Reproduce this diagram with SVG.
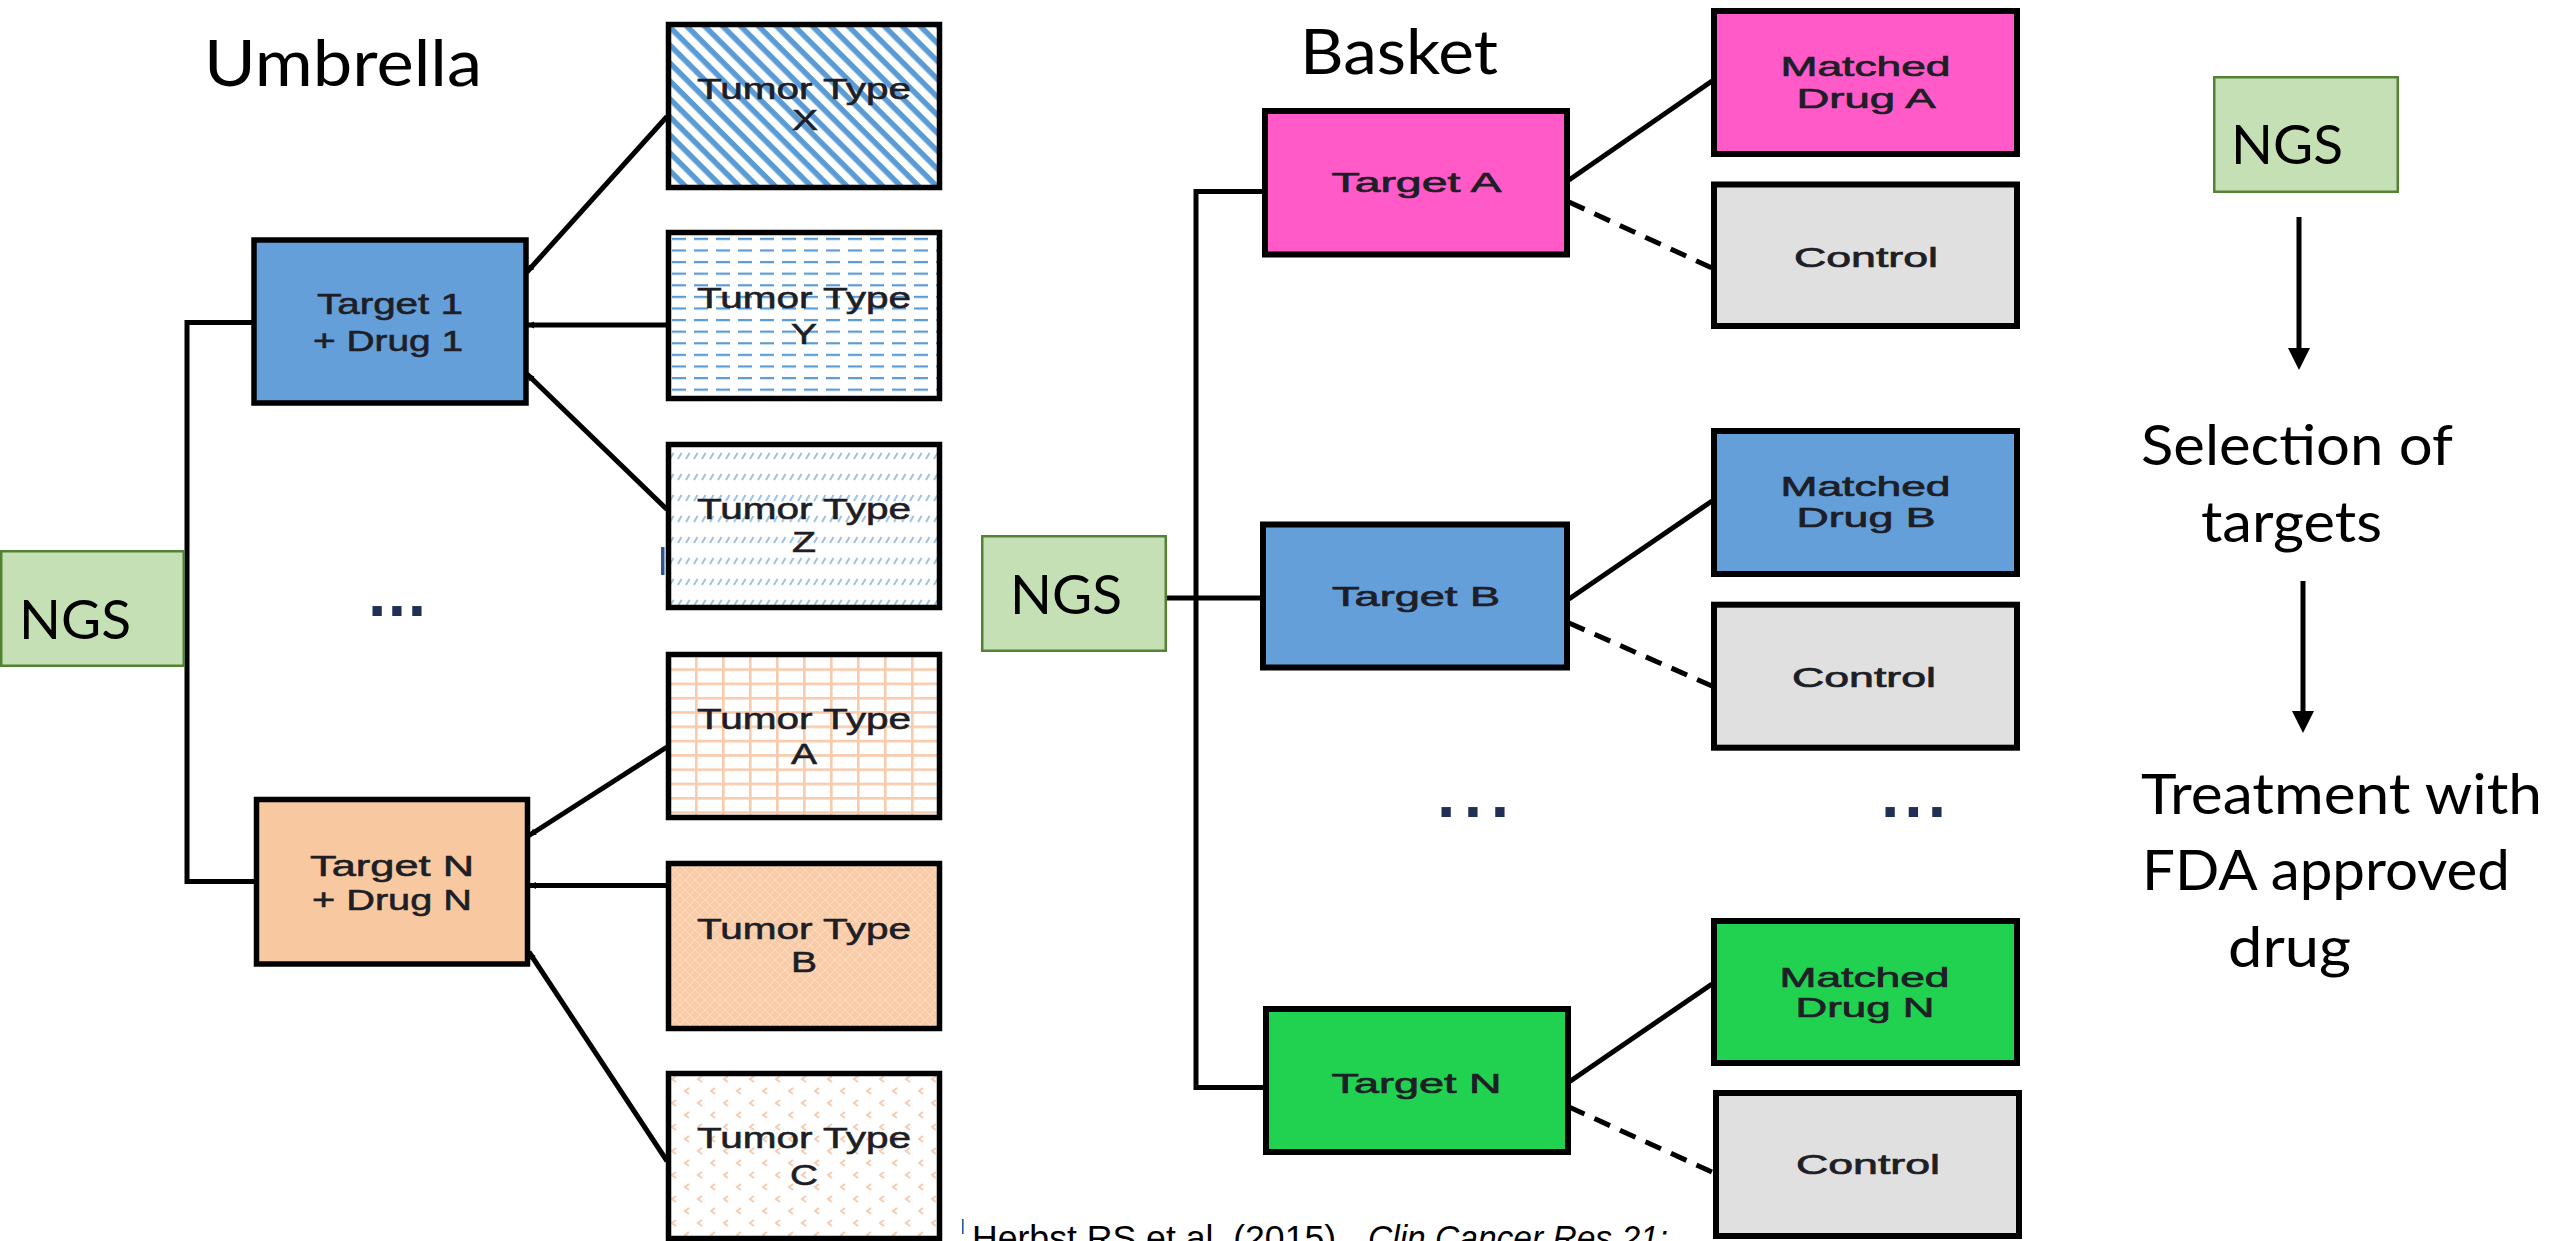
<svg xmlns="http://www.w3.org/2000/svg" width="2552" height="1241" viewBox="0 0 2552 1241">
<style>
.big{font-family:Lato,"Open Sans","Liberation Sans",sans-serif;fill:#000}
.lbl{font-family:"Liberation Sans",Arial,sans-serif;font-size:30px;fill:#1e1e26;stroke:#1e1e26;stroke-width:0.6;text-anchor:middle}
.blbl{font-family:"Liberation Sans",Arial,sans-serif;font-size:28px;fill:#1e1e26;stroke:#1e1e26;stroke-width:0.7;text-anchor:middle}
.box{stroke:#000;stroke-width:5.5}
.bbox{stroke:#000;stroke-width:6}
.ngs{fill:#C5E0B4;stroke:#548235;stroke-width:2.5}
.con{fill:none;stroke:#000;stroke-width:5}
.dash{fill:none;stroke:#000;stroke-width:5;stroke-dasharray:17 11}
.dots{font-family:"Liberation Sans",Arial,sans-serif;font-size:66px;font-weight:bold;fill:#1F2F55}
</style>
<defs>
<pattern id="pX" patternUnits="userSpaceOnUse" width="12.7" height="12.7" patternTransform="rotate(45)">
<rect width="12.7" height="12.7" fill="#fff"/>
<rect width="12.7" height="5.5" fill="#5B9BD5"/>
</pattern>
<pattern id="pY" patternUnits="userSpaceOnUse" x="670" y="233" width="22" height="11.6">
<rect width="22" height="11.6" fill="#fff"/>
<rect x="2" y="4.8" width="14" height="2.2" fill="#5B9BD5"/>
</pattern>
<pattern id="pZ" patternUnits="userSpaceOnUse" x="668" y="446" width="8" height="21">
<rect width="8" height="21" fill="#fff"/>
<path d="M2,13 L5.5,7" stroke="#9DC3E6" stroke-width="2"/>
</pattern>
<pattern id="pA" patternUnits="userSpaceOnUse" x="668" y="654" width="27" height="14.3">
<rect width="27" height="14.3" fill="#fff"/>
<path d="M0,1.3 H27 M1.3,0 V14.3" stroke="#F8CBAD" stroke-width="2.6"/>
</pattern>
<pattern id="pB" patternUnits="userSpaceOnUse" width="10" height="10">
<rect width="10" height="10" fill="#F9CBA6"/>
<path d="M0,5 L5,0 L10,5 L5,10 Z" fill="none" stroke="#fff" stroke-opacity="0.35" stroke-width="1"/>
</pattern>
<pattern id="pC" patternUnits="userSpaceOnUse" x="668" y="1073" width="26" height="24">
<rect width="26" height="24" fill="#fff"/>
<path d="M8,3 L4,6 L8,9 M21,15 L17,18 L21,21" stroke="#F8CBAD" stroke-width="2" fill="none"/>
</pattern>
<marker id="tick" markerUnits="userSpaceOnUse" markerWidth="10" markerHeight="10" viewBox="0 -5 10 10" refX="0" refY="0" orient="auto">
<path d="M7,-3.5 L0,0 L7,3.5 Z" fill="#000"/>
</marker>
<marker id="arrow" markerUnits="userSpaceOnUse" markerWidth="22" markerHeight="22" viewBox="0 0 22 22" refX="4" refY="11" orient="auto">
<path d="M0,0 L22,11 L0,22 Z" fill="#000"/>
</marker>
</defs>
<rect width="2552" height="1241" fill="#fff"/>

<g id="connectors">
<path class="con" d="M254,322.5 H187 V881.5 H257"/>
<line class="con" x1="527" y1="272" x2="667" y2="116.5" marker-start="url(#tick)"/>
<line class="con" x1="527" y1="325" x2="667" y2="325" marker-start="url(#tick)"/>
<line class="con" x1="527" y1="374" x2="667" y2="509.5" marker-start="url(#tick)"/>
<line class="con" x1="529" y1="835.5" x2="667" y2="747" marker-start="url(#tick)"/>
<line class="con" x1="529" y1="885.5" x2="667" y2="885.5" marker-start="url(#tick)"/>
<line class="con" x1="529" y1="952" x2="667" y2="1161" marker-start="url(#tick)"/>
<path class="con" d="M1264,191.5 H1196 V1087.5 H1265"/>
<line class="con" x1="1167" y1="598" x2="1262" y2="598"/>
<line class="con" x1="1569" y1="180" x2="1712" y2="81"/>
<line class="dash" x1="1569" y1="202" x2="1712" y2="268"/>
<line class="con" x1="1569" y1="599" x2="1712" y2="501"/>
<line class="dash" x1="1569" y1="623" x2="1712" y2="686"/>
<line class="con" x1="1569" y1="1082" x2="1712" y2="984"/>
<line class="dash" x1="1569" y1="1107" x2="1712" y2="1172"/>
<line class="con" x1="2299" y1="217" x2="2299" y2="352" stroke-width="5.5" marker-end="url(#arrow)"/>
<line class="con" x1="2303" y1="581" x2="2303" y2="715" stroke-width="5.5" marker-end="url(#arrow)"/>
</g>

<text class="big" x="204" y="85.6" font-size="63" textLength="278" lengthAdjust="spacingAndGlyphs">Umbrella</text>
<text class="big" x="1300" y="74.3" font-size="61" textLength="198" lengthAdjust="spacingAndGlyphs">Basket</text>

<g id="ngs-left"><rect class="ngs" x="1.25" y="551.25" width="182.5" height="114.5"/>
<text class="big" x="19" y="638.6" font-size="54" textLength="112" lengthAdjust="spacingAndGlyphs">NGS</text></g>

<g id="target1"><rect class="box" x="254" y="240" width="272" height="163" fill="#649FDA"/>
<text class="lbl" x="390" y="314" textLength="146" lengthAdjust="spacingAndGlyphs">Target 1</text>
<text class="lbl" x="388" y="351" textLength="150" lengthAdjust="spacingAndGlyphs">+ Drug 1</text></g>

<g id="targetN-umb"><rect class="box" x="256.5" y="799.5" width="271" height="164.5" fill="#F8C9A0"/>
<text class="lbl" x="392" y="876" textLength="164" lengthAdjust="spacingAndGlyphs">Target  N</text>
<text class="lbl" x="392" y="910" textLength="160" lengthAdjust="spacingAndGlyphs">+ Drug N</text></g>

<g id="tumorX"><rect class="box" x="668.5" y="24.5" width="271" height="163" fill="url(#pX)"/>
<text class="lbl" x="804" y="99" textLength="214" lengthAdjust="spacingAndGlyphs">Tumor Type</text>
<text class="lbl" x="805" y="130" textLength="26" lengthAdjust="spacingAndGlyphs">X</text></g>

<g id="tumorY"><rect class="box" x="668.5" y="232.5" width="271" height="166" fill="url(#pY)"/>
<text class="lbl" x="804" y="308" textLength="214" lengthAdjust="spacingAndGlyphs">Tumor Type</text>
<text class="lbl" x="804" y="344" textLength="26" lengthAdjust="spacingAndGlyphs">Y</text></g>

<g id="tumorZ"><rect class="box" x="668.5" y="444.5" width="271" height="163" fill="url(#pZ)"/>
<text class="lbl" x="804" y="519" textLength="214" lengthAdjust="spacingAndGlyphs">Tumor Type</text>
<text class="lbl" x="804" y="552" textLength="24" lengthAdjust="spacingAndGlyphs">Z</text></g>
<rect x="661" y="547" width="3.5" height="28" fill="#2F5597"/>

<g id="tumorA"><rect class="box" x="668.5" y="654.5" width="271" height="163" fill="url(#pA)"/>
<text class="lbl" x="804" y="729" textLength="214" lengthAdjust="spacingAndGlyphs">Tumor Type</text>
<text class="lbl" x="804" y="764" textLength="26" lengthAdjust="spacingAndGlyphs">A</text></g>

<g id="tumorB"><rect class="box" x="668.5" y="863.5" width="271" height="165" fill="url(#pB)"/>
<text class="lbl" x="804" y="939" textLength="214" lengthAdjust="spacingAndGlyphs">Tumor Type</text>
<text class="lbl" x="804" y="972" textLength="26" lengthAdjust="spacingAndGlyphs">B</text></g>

<g id="tumorC"><rect class="box" x="668.5" y="1073.5" width="271" height="165" fill="url(#pC)"/>
<text class="lbl" x="804" y="1148" textLength="214" lengthAdjust="spacingAndGlyphs">Tumor Type</text>
<text class="lbl" x="804" y="1185" textLength="28" lengthAdjust="spacingAndGlyphs">C</text></g>

<text class="dots" x="368" y="616" textLength="58" lengthAdjust="spacing">...</text>

<g id="ngs-mid"><rect class="ngs" x="982.25" y="536.25" width="183.5" height="114.5"/>
<text class="big" x="1010" y="614.2" font-size="54" textLength="112" lengthAdjust="spacingAndGlyphs">NGS</text></g>

<g id="targetA"><rect class="bbox" x="1265" y="111" width="302" height="143.5" fill="#FF5AC8"/>
<text class="blbl" x="1416.5" y="192.4" textLength="170" lengthAdjust="spacingAndGlyphs">Target A</text></g>
<g id="targetB"><rect class="bbox" x="1263" y="524.5" width="304" height="143" fill="#649FDA"/>
<text class="blbl" x="1416" y="605.5" textLength="168" lengthAdjust="spacingAndGlyphs">Target B</text></g>
<g id="targetN"><rect class="bbox" x="1266" y="1009" width="302" height="143" fill="#20D24F"/>
<text class="blbl" x="1416.5" y="1093" textLength="170" lengthAdjust="spacingAndGlyphs">Target N</text></g>

<g id="matchedA"><rect class="bbox" x="1714" y="11" width="303" height="143" fill="#FF5AC8"/>
<text class="blbl" x="1865.5" y="76" textLength="170" lengthAdjust="spacingAndGlyphs">Matched</text>
<text class="blbl" x="1866" y="108.4" textLength="139" lengthAdjust="spacingAndGlyphs">Drug A</text></g>
<g id="controlA"><rect class="bbox" x="1714" y="184.5" width="303" height="141.5" fill="#E0E0E0"/>
<text class="blbl" x="1866" y="266.7" textLength="144" lengthAdjust="spacingAndGlyphs">Control</text></g>
<g id="matchedB"><rect class="bbox" x="1714" y="431" width="303" height="143" fill="#649FDA"/>
<text class="blbl" x="1865.5" y="496" textLength="170" lengthAdjust="spacingAndGlyphs">Matched</text>
<text class="blbl" x="1866" y="527" textLength="139" lengthAdjust="spacingAndGlyphs">Drug B</text></g>
<g id="controlB"><rect class="bbox" x="1714" y="604.7" width="303" height="143" fill="#E0E0E0"/>
<text class="blbl" x="1864" y="686.8" textLength="144" lengthAdjust="spacingAndGlyphs">Control</text></g>
<g id="matchedN"><rect class="bbox" x="1714" y="921" width="303" height="142" fill="#20D24F"/>
<text class="blbl" x="1864.5" y="987" textLength="170" lengthAdjust="spacingAndGlyphs">Matched</text>
<text class="blbl" x="1865" y="1017" textLength="139" lengthAdjust="spacingAndGlyphs">Drug N</text></g>
<g id="controlN"><rect class="bbox" x="1716" y="1093" width="303" height="143" fill="#E0E0E0"/>
<text class="blbl" x="1868" y="1174" textLength="144" lengthAdjust="spacingAndGlyphs">Control</text></g>

<text class="dots" x="1437" y="817" textLength="72" lengthAdjust="spacing">...</text>
<text class="dots" x="1881" y="817" textLength="65" lengthAdjust="spacing">...</text>

<g id="ngs-right"><rect class="ngs" x="2214.25" y="77.25" width="183.5" height="114.5"/>
<text class="big" x="2231" y="164.3" font-size="54" textLength="112" lengthAdjust="spacingAndGlyphs">NGS</text></g>
<g id="selection">
<text class="big" x="2141" y="465" font-size="56" textLength="312" lengthAdjust="spacingAndGlyphs">Selection of</text>
<text class="big" x="2201" y="542" font-size="56" textLength="181" lengthAdjust="spacingAndGlyphs">targets</text></g>
<g id="treatment">
<text class="big" x="2141" y="814" font-size="56" textLength="401" lengthAdjust="spacingAndGlyphs">Treatment with</text>
<text class="big" x="2142" y="889.7" font-size="56" textLength="368" lengthAdjust="spacingAndGlyphs">FDA approved</text>
<text class="big" x="2228" y="966.7" font-size="56" textLength="123" lengthAdjust="spacingAndGlyphs">drug</text></g>

<rect x="962" y="1219" width="1.6" height="15" fill="#2F5597"/>
<text x="972" y="1250" font-family="'Liberation Sans',Arial,sans-serif" font-size="35" fill="#000" textLength="374" lengthAdjust="spacingAndGlyphs">Herbst RS et al.  (2015).</text>
<text x="1368" y="1250" font-family="'Liberation Sans',Arial,sans-serif" font-size="35" font-style="italic" fill="#000" textLength="300" lengthAdjust="spacingAndGlyphs">Clin Cancer Res 21:</text>
</svg>
